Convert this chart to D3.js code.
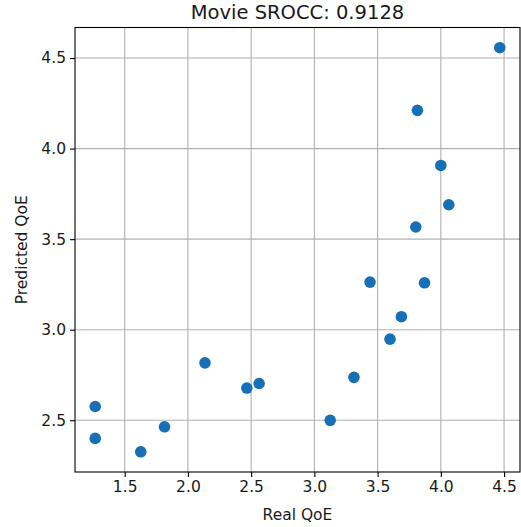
<!DOCTYPE html>
<html>
<head>
<meta charset="utf-8">
<script src="https://cdn.jsdelivr.net/npm/d3@7"></script>
<style>
  html, body { margin: 0; padding: 0; background: #fff; }
  svg { display: block; }
  text { font-family: "DejaVu Sans", sans-serif; fill: #1a1a1a; }
</style>
</head>
<body>
<script>
const titleText = "Movie SROCC: 0.9128";
const xLabel = "Real QoE";
const yLabel = "Predicted QoE";
const realQoE = [1.267, 1.267, 1.627, 1.815, 2.135, 2.466, 2.563, 3.125, 3.313, 3.440, 3.598, 3.688, 3.802, 3.871, 4.000, 3.815, 4.063, 4.466];
const predictedQoE = [2.576, 2.400, 2.326, 2.464, 2.817, 2.678, 2.703, 2.500, 2.737, 3.263, 2.948, 3.072, 3.567, 3.259, 3.907, 4.211, 3.690, 4.557];
const xTicks = [1.5, 2.0, 2.5, 3.0, 3.5, 4.0, 4.5];
const yTicks = [2.5, 3.0, 3.5, 4.0, 4.5];

const W = 521, H = 527;
const m = { left: 75, right: 1, top: 27.5, bottom: 55 };
const x0 = m.left, x1 = W - m.right, y0 = m.top, y1 = H - m.bottom;

const svg = d3.select("body").append("svg").attr("width", W).attr("height", H);

// 5% margins like matplotlib
const xe = d3.extent(realQoE), ye = d3.extent(predictedQoE);
const xp = (xe[1] - xe[0]) * 0.05, yp = (ye[1] - ye[0]) * 0.05;
const x = d3.scaleLinear().domain([xe[0] - xp, xe[1] + xp]).range([x0, x1]);
const y = d3.scaleLinear().domain([ye[0] - yp, ye[1] + yp]).range([y1, y0]);

// grid
const grid = svg.append("g");
grid.selectAll("line.gx").data(xTicks).join("line")
  .attr("x1", d => x(d)).attr("x2", d => x(d)).attr("y1", y0).attr("y2", y1)
  .attr("stroke", "#b0b0b0").attr("stroke-width", 1.1);
grid.selectAll("line.gy").data(yTicks).join("line")
  .attr("y1", d => y(d)).attr("y2", d => y(d)).attr("x1", x0).attr("x2", x1)
  .attr("stroke", "#b0b0b0").attr("stroke-width", 1.1);

// axes
const xAxis = d3.axisBottom(x).tickValues(xTicks).tickFormat(d3.format(".1f")).tickSize(5).tickPadding(4);
const yAxis = d3.axisLeft(y).tickValues(yTicks).tickFormat(d3.format(".1f")).tickSize(5).tickPadding(4);
const gx = svg.append("g").attr("transform", `translate(0,${y1})`).call(xAxis);
const gy = svg.append("g").attr("transform", `translate(${x0},0)`).call(yAxis);
[gx, gy].forEach(g => {
  g.select(".domain").remove();
  g.selectAll(".tick line").attr("stroke", "#000").attr("stroke-width", 1.1);
  g.selectAll(".tick text").attr("font-size", "15.5px").attr("font-family", "DejaVu Sans").attr("fill", "#1a1a1a");
});

// points
svg.append("g").selectAll("circle").data(realQoE.map((v, i) => [v, predictedQoE[i]])).join("circle")
  .attr("cx", d => x(d[0])).attr("cy", d => y(d[1])).attr("r", 5.8)
  .attr("fill", "#1770b5");

// frame
svg.append("rect").attr("x", x0).attr("y", y0).attr("width", x1 - x0).attr("height", y1 - y0)
  .attr("fill", "none").attr("stroke", "#000").attr("stroke-width", 1.1);

// labels
svg.append("text").attr("x", (x0 + x1) / 2).attr("y", 18.5).attr("text-anchor", "middle")
  .attr("font-size", "19.5px").text(titleText);
svg.append("text").attr("x", (x0 + x1) / 2).attr("y", 520).attr("text-anchor", "middle")
  .attr("font-size", "15.5px").text(xLabel);
svg.append("text").attr("transform", `translate(27,${(y0 + y1) / 2}) rotate(-90)`).attr("text-anchor", "middle")
  .attr("font-size", "15.5px").text(yLabel);
</script>
</body>
</html>
